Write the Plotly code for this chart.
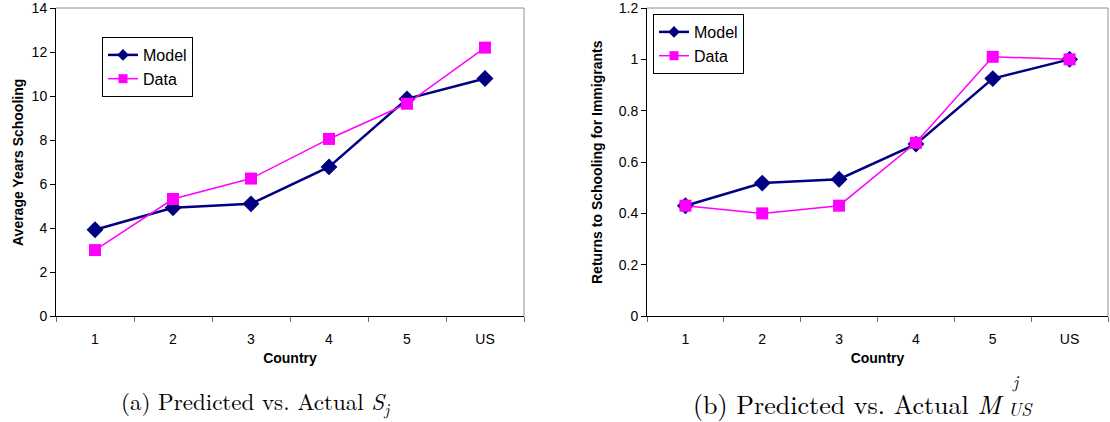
import plotly.graph_objects as go

countries = ["1", "2", "3", "4", "5", "US"]
model_school = [3.92, 4.92, 5.1, 6.78, 9.87, 10.8]
data_school = [3.0, 5.32, 6.25, 8.05, 9.65, 12.2]
model_returns = [0.43, 0.518, 0.533, 0.67, 0.925, 1.0]
data_returns = [0.43, 0.40, 0.43, 0.675, 1.01, 1.0]

NAVY = "#000080"
MAG = "#FF00FF"
AX_FONT = dict(family="Liberation Sans, Arial, sans-serif", size=14, color="black")
LEG_FONT = dict(family="Liberation Sans, Arial, sans-serif", size=16, color="black")

fig = go.Figure()

def add_pair(xa, ya, model, data, legend):
    fig.add_trace(go.Scatter(x=countries, y=model, name="Model", mode="lines+markers",
                             line=dict(color=NAVY, width=2.5),
                             marker=dict(symbol="diamond", size=13, color=NAVY),
                             xaxis=xa, yaxis=ya, showlegend=False))
    fig.add_trace(go.Scatter(x=countries, y=data, name="Data", mode="lines+markers",
                             line=dict(color=MAG, width=1.5),
                             marker=dict(symbol="square", size=12, color=MAG),
                             xaxis=xa, yaxis=ya, showlegend=False))
    # legend entries with smaller symbols
    fig.add_trace(go.Scatter(x=[None], y=[None], name="Model", mode="lines+markers",
                             line=dict(color=NAVY, width=2.5),
                             marker=dict(symbol="diamond", size=9, color=NAVY),
                             xaxis=xa, yaxis=ya, legend=legend))
    fig.add_trace(go.Scatter(x=[None], y=[None], name="Data", mode="lines+markers",
                             line=dict(color=MAG, width=1.5),
                             marker=dict(symbol="square", size=9, color=MAG),
                             xaxis=xa, yaxis=ya, legend=legend))

add_pair("x", "y", model_school, data_school, "legend")
add_pair("x2", "y2", model_returns, data_returns, "legend2")

ydom = [0.251, 0.981]
common_x = dict(type="category", range=[-0.5, 5.5], tickson="boundaries", ticks="outside",
                ticklen=5, tickcolor="#707070", showline=True, linecolor="black", linewidth=1,
                mirror=False, showgrid=False, zeroline=False, tickfont=AX_FONT,
                ticklabelstandoff=10, automargin=False, fixedrange=True)
common_y = dict(ticks="outside", ticklen=5, tickcolor="black", showline=True, linecolor="black",
                linewidth=1, showgrid=False, zeroline=False, tickfont=AX_FONT, automargin=False,
                ticklabeloverflow="allow")

fig.update_layout(
    width=1110, height=422,
    margin=dict(l=0, r=0, t=0, b=0),
    paper_bgcolor="white", plot_bgcolor="white",
    xaxis=dict(domain=[56/1110, 524/1110], anchor="y",
               title=dict(text="<b>Country</b>", font=AX_FONT, standoff=7), **common_x),
    yaxis=dict(domain=ydom, anchor="x", range=[0, 14], tickvals=list(range(0, 15, 2)), **common_y),
    xaxis2=dict(domain=[647/1110, 1108/1110], anchor="y2",
                title=dict(text="<b>Country</b>", font=AX_FONT, standoff=7), **common_x),
    yaxis2=dict(domain=ydom, anchor="x2", range=[0, 1.2],
                tickvals=[0, 0.2, 0.4, 0.6, 0.8, 1.0, 1.2],
                ticktext=["0", "0.2", "0.4", "0.6", "0.8", "1", "1.2"], **common_y),
    legend=dict(x=102/1110, y=(422-37)/422, xanchor="left", yanchor="top",
                bordercolor="black", borderwidth=1, bgcolor="white", font=LEG_FONT,
                tracegroupgap=0, itemwidth=30),
    legend2=dict(x=653/1110, y=(422-14)/422, xanchor="left", yanchor="top",
                 bordercolor="black", borderwidth=1, bgcolor="white", font=LEG_FONT,
                 tracegroupgap=0, itemwidth=30),
    showlegend=True,
)

# gray frame on top/right of plot areas
for x0, x1 in [(56/1110, 524/1110), (647/1110, 1108/1110)]:
    fig.add_shape(type="line", xref="paper", yref="paper", x0=x0, x1=x1, y0=ydom[1], y1=ydom[1],
                  line=dict(color="#909090", width=1))
    fig.add_shape(type="line", xref="paper", yref="paper", x0=x1, x1=x1, y0=ydom[0], y1=ydom[1],
                  line=dict(color="#909090", width=1))

# y-axis titles
fig.add_annotation(text="<b>Average Years Schooling</b>", textangle=-90, xref="paper", yref="paper",
                   x=18/1110, xanchor="center", y=(422-163)/422, yanchor="middle",
                   showarrow=False, font=AX_FONT)
fig.add_annotation(text="<b>Returns to Schooling for Immigrants</b>", textangle=-90, xref="paper",
                   yref="paper", x=597/1110, xanchor="center", y=(422-162)/422, yanchor="middle",
                   showarrow=False, font=AX_FONT)

CAPF = "Latin Modern Roman, CMU Serif, Liberation Serif, serif"
fig.add_annotation(text="(a) Predicted vs. Actual <i>S</i><sub><i>j</i></sub>", xref="paper", yref="paper",
                   x=119/1110, xanchor="left", y=(422-402)/422, yanchor="middle",
                   showarrow=False, font=dict(family=CAPF, size=23, color="black"))
fig.add_annotation(text="(b) Predicted vs. Actual <i>M</i>", xref="paper", yref="paper",
                   x=691/1110, xanchor="left", y=(422-403)/422, yanchor="middle",
                   showarrow=False, font=dict(family=CAPF, size=26, color="black"))
fig.add_annotation(text="<i>j</i>", xref="paper", yref="paper",
                   x=1016/1110, xanchor="center", y=(422-381)/422, yanchor="middle",
                   showarrow=False, borderpad=0, font=dict(family=CAPF, size=17, color="black"))
fig.add_annotation(text="<i>US</i>", xref="paper", yref="paper",
                   x=1020/1110, xanchor="center", y=(422-408)/422, yanchor="middle",
                   showarrow=False, borderpad=0, font=dict(family=CAPF, size=18, color="black"))

fig.write_html("out.html")
